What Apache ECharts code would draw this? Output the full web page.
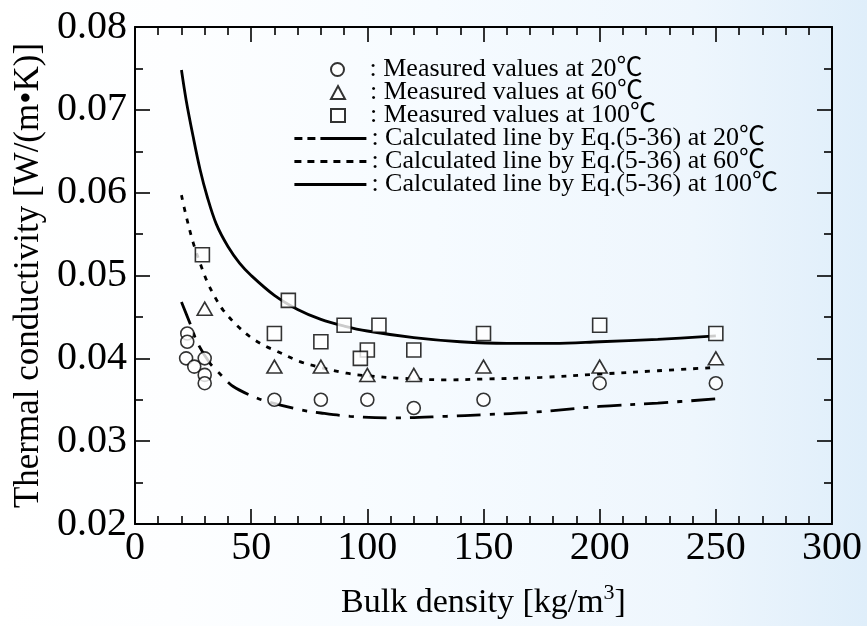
<!DOCTYPE html>
<html>
<head>
<meta charset="utf-8">
<title>Thermal conductivity vs bulk density</title>
<script src="https://cdn.jsdelivr.net/npm/echarts@6/dist/echarts.min.js"></script>
<style>
  html, body { margin: 0; padding: 0; }
  #chart {
    width: 867px; height: 626px;
    background: linear-gradient(to right, #ffffff 0%, #fdfeff 20%, #f6fbff 50%, #eef6fd 80%, #dfeefa 100%);
  }
</style>
</head>
<body>
<div id="chart"></div>
<script>
// Measured thermal conductivity [W/(m·K)] against bulk density [kg/m³]
const density20 = [22.5, 22.5, 22, 25.5, 30, 30, 30, 60, 80, 100, 120, 150, 200, 250];
const measured20 = [0.043, 0.042, 0.040, 0.039, 0.040, 0.038, 0.037, 0.035, 0.035, 0.035, 0.034, 0.035, 0.037, 0.037];

const density60 = [30, 60, 80, 100, 120, 150, 200, 250];
const measured60 = [0.046, 0.039, 0.039, 0.038, 0.038, 0.039, 0.039, 0.040];

const density100 = [29, 66, 60, 80, 90, 105, 100, 97, 120, 150, 200, 250];
const measured100 = [0.0525, 0.047, 0.043, 0.042, 0.044, 0.044, 0.041, 0.040, 0.041, 0.043, 0.044, 0.043];

// Calculated lines, Eq.(5-36)
const calcDensity20 = [20, 23.7, 27, 32.3, 37, 42.3, 50, 56.7, 71, 80, 92.6, 111, 134, 150, 171.5, 200, 225, 250];
const calc20 = [0.0468, 0.0442, 0.0418, 0.0394, 0.0380, 0.0366, 0.0355, 0.0348, 0.0338, 0.0334, 0.0330, 0.0328, 0.0330, 0.0332, 0.0335, 0.0342, 0.0346, 0.0351];

const calcDensity60 = [20, 22, 25, 28, 31, 34.4, 38, 43.8, 50, 56.7, 60, 71, 80, 91, 100, 114, 134, 150, 175, 200, 225, 250];
const calc60 = [0.0597, 0.0572, 0.0540, 0.0515, 0.0493, 0.0474, 0.0458, 0.0440, 0.0425, 0.0414, 0.0410, 0.0396, 0.0389, 0.0382, 0.0379, 0.0376, 0.0374, 0.0375, 0.0377, 0.0381, 0.0385, 0.0389];

const calcDensity100 = [20, 22, 25, 28, 31, 35, 40, 45, 50, 60, 70, 80, 90, 100, 120, 140, 160, 180, 200, 225, 250];
const calc100 = [0.0748, 0.0712, 0.0668, 0.0628, 0.0596, 0.0562, 0.0535, 0.0515, 0.0500, 0.0476, 0.0459, 0.0447, 0.0439, 0.0433, 0.0425, 0.0420, 0.0418, 0.0418, 0.0420, 0.0423, 0.0427];

// Axis ticks
const xTicks = { min: 0, max: 300, interval: 50 };
const yTicks = { min: 0.02, max: 0.08, interval: 0.01 };

const seriesNames = [
  'Measured values at 20\u2103',
  'Measured values at 60\u2103',
  'Measured values at 100\u2103',
  'Calculated line by Eq.(5-36) at 20\u2103',
  'Calculated line by Eq.(5-36) at 60\u2103',
  'Calculated line by Eq.(5-36) at 100\u2103'
];

const pairs = (xs, ys) => xs.map((x, i) => [x, ys[i]]);

const serif = "'Liberation Serif', 'Times New Roman', 'Noto Sans CJK JP', serif";
const legendFont = "'Liberation Serif', 'Noto Sans CJK JP', serif";

const axisCommon = {
  type: 'value',
  splitLine: { show: false },
  axisLine: { show: true, onZero: false, lineStyle: { color: '#000', width: 2 } },
  axisTick: { show: true, inside: true, length: 15, lineStyle: { color: '#000', width: 1.6 } },
  minorTick: { show: true, length: 8, lineStyle: { color: '#000', width: 1.6 } },
  minorSplitLine: { show: false }
};

const markerStyle = { color: '#ffffff', borderColor: '#000000', borderWidth: 1.6 };
const hiddenSymbol = { color: 'rgba(0,0,0,0)', borderColor: 'rgba(0,0,0,0)', borderWidth: 0 };

// Legend key dash patterns (rows 4-6)
const legendDash = [null, null, null, [8, 5, 8, 5, 46], [7, 6], 'solid'];

// One legend block per row so the rows keep a tight, even pitch
const legendRows = [68, 91, 114, 137, 160, 183];
const legends = seriesNames.map((name, i) => {
  const isMarker = i < 3;
  const block = {
    orient: 'vertical',
    left: isMarker ? 330 : 293,
    top: legendRows[i] - 11.5,
    itemWidth: isMarker ? 14 : 72,
    itemHeight: isMarker ? 13 : 12,
    itemGap: 0,
    padding: 0,
    selectedMode: false,
    data: [name],
    formatter: n => ': ' + n,
    textStyle: {
      fontFamily: legendFont, fontSize: 26, color: '#000', lineHeight: 23,
      padding: isMarker ? [0, 0, 0, 20] : 0
    }
  };
  if (!isMarker) {
    block.lineStyle = { color: '#000', width: 2.8, type: legendDash[i] };
  }
  return block;
});

const chart = echarts.init(document.getElementById('chart'), null, { renderer: 'canvas' });

chart.setOption({
  backgroundColor: 'transparent',
  animation: false,
  grid: { left: 135, right: 35, top: 27, bottom: 102, containLabel: false },
  xAxis: [
    Object.assign({}, axisCommon, {
      min: xTicks.min, max: xTicks.max, interval: xTicks.interval,
      position: 'bottom',
      minorTick: Object.assign({}, axisCommon.minorTick, { splitNumber: 5 }),
      axisLabel: { show: true, margin: 4, fontFamily: serif, fontSize: 40, color: '#000' },
      name: 'Bulk density [kg/m{sup|3}]',
      nameLocation: 'middle',
      nameGap: 58,
      nameTextStyle: {
        fontFamily: serif, fontSize: 34, color: '#000',
        rich: { sup: { fontFamily: serif, fontSize: 22, color: '#000', verticalAlign: 'top', padding: [0, 0, 20, 0] } }
      }
    }),
    Object.assign({}, axisCommon, {
      min: xTicks.min, max: xTicks.max, interval: xTicks.interval,
      position: 'top',
      minorTick: Object.assign({}, axisCommon.minorTick, { splitNumber: 5 }),
      axisLabel: { show: false }
    })
  ],
  yAxis: [
    Object.assign({}, axisCommon, {
      min: yTicks.min, max: yTicks.max, interval: yTicks.interval,
      position: 'left',
      minorTick: Object.assign({}, axisCommon.minorTick, { splitNumber: 2 }),
      axisLabel: {
        show: true, margin: 8, fontFamily: serif, fontSize: 40, color: '#000',
        formatter: v => v.toFixed(2)
      },
      name: 'Thermal conductivity [W/(m\u2022K)]',
      nameLocation: 'middle',
      nameGap: 83,
      nameTextStyle: { fontFamily: serif, fontSize: 35, color: '#000' }
    }),
    Object.assign({}, axisCommon, {
      min: yTicks.min, max: yTicks.max, interval: yTicks.interval,
      position: 'right',
      minorTick: Object.assign({}, axisCommon.minorTick, { splitNumber: 2 }),
      axisLabel: { show: false }
    })
  ],
  legend: legends,
  series: [
    {
      name: seriesNames[3], type: 'line', data: pairs(calcDensity20, calc20),
      smooth: 0.35, symbol: 'none', silent: true, z: 2,
      lineStyle: { color: '#000', width: 2.8, type: [24, 9, 5, 9] },
      itemStyle: hiddenSymbol
    },
    {
      name: seriesNames[4], type: 'line', data: pairs(calcDensity60, calc60),
      smooth: 0.35, symbol: 'none', silent: true, z: 2,
      lineStyle: { color: '#000', width: 2.8, type: [5, 7] },
      itemStyle: hiddenSymbol
    },
    {
      name: seriesNames[5], type: 'line', data: pairs(calcDensity100, calc100),
      smooth: 0.35, symbol: 'none', silent: true, z: 2,
      lineStyle: { color: '#000', width: 2.8, type: 'solid' },
      itemStyle: hiddenSymbol
    },
    {
      name: seriesNames[0], type: 'scatter', data: pairs(density20, measured20),
      symbol: 'circle', symbolSize: 13, z: 3, itemStyle: markerStyle
    },
    {
      name: seriesNames[1], type: 'scatter', data: pairs(density60, measured60),
      symbol: 'triangle', symbolSize: [15, 13], z: 3, itemStyle: markerStyle
    },
    {
      name: seriesNames[2], type: 'scatter', data: pairs(density100, measured100),
      symbol: 'rect', symbolSize: 14, z: 3, itemStyle: markerStyle
    }
  ]
});
</script>
</body>
</html>
